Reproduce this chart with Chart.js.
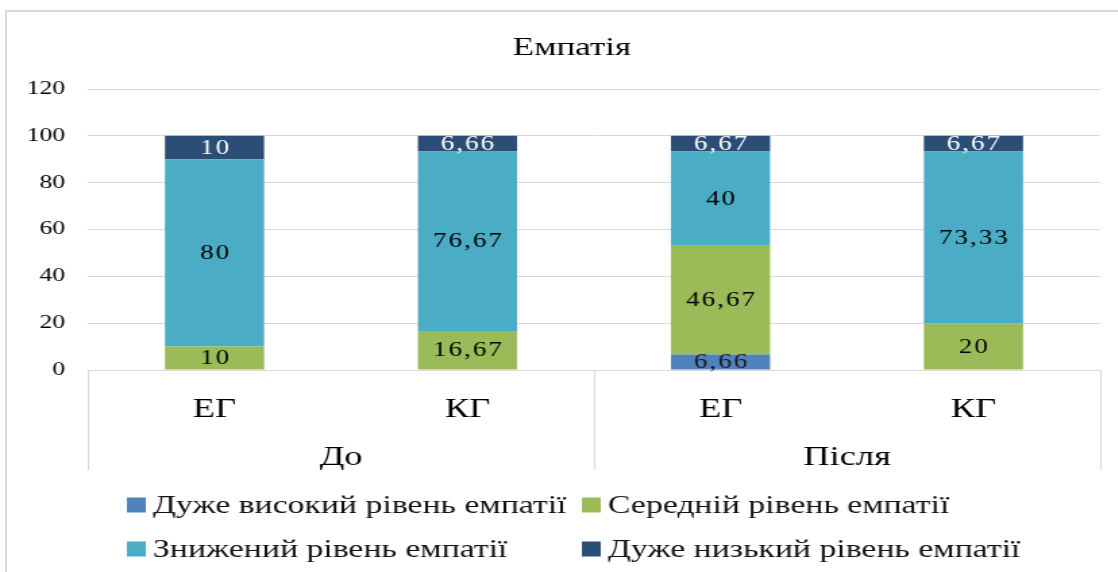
<!DOCTYPE html>
<html>
<head>
<meta charset="utf-8">
<script src="https://cdn.jsdelivr.net/npm/chart.js@4/dist/chart.umd.min.js"></script>
<style>
  html, body { margin: 0; padding: 0; background: #ffffff; overflow: hidden; width: 1118px; height: 572px; }
  #frame { position: absolute; left: 5px; top: 10px; width: 1300px; height: 700px; border: 2px solid #d9d9d9; box-sizing: border-box; }
  #c { position: absolute; left: 0; top: 0; transform: scaleX(1.35); transform-origin: 0 0; }
</style>
</head>
<body>
<div id="frame"></div>
<canvas id="c" width="847" height="572" style="width:847px;height:572px"></canvas>
<script>
// ---- data ----
const categories = ['ЕГ', 'КГ', 'ЕГ', 'КГ'];
const groups = ['До', 'Після'];
const seriesNames = ['Дуже високий рівень емпатії', 'Середній рівень емпатії', 'Знижений рівень емпатії', 'Дуже низький рівень емпатії'];
const veryHigh = [0, 0, 6.66, 0];
const medium = [10, 16.67, 46.67, 20];
const reduced = [80, 76.67, 40, 73.33];
const veryLow = [10, 6.66, 6.67, 6.67];
const yTicks = [0, 20, 40, 60, 80, 100, 120];

const colors = ['#4F81BD', '#9BBB59', '#4BACC6', '#2C4D75'];
const labelColors = ['#1a1a1a', '#000000', '#000000', '#ffffff'];
const FONT = "'Liberation Serif', 'Times New Roman', serif";

const fmt = v => String(v).replace('.', ',');

const extras = {
  id: 'extras',
  afterLayout(chart) {
    // centre the title on the full (wider, cropped) frame
    if (chart.titleBlock) chart.titleBlock.left = 32.6;
  },
  afterDraw(chart) {
    const ctx = chart.ctx;
    const xs = chart.scales.x, x2 = chart.scales.x2, a = chart.chartArea;
    ctx.save();
    // group separators
    ctx.strokeStyle = '#d9d9d9';
    ctx.lineWidth = 1;
    [-0.5, 1.5, 3.5].forEach(v => {
      const px = Math.round(xs.getPixelForValue(v)) + 0.5;
      ctx.beginPath();
      ctx.moveTo(px, a.bottom);
      ctx.lineTo(px, x2.bottom);
      ctx.stroke();
    });
    // bar value labels
    ctx.font = '20px ' + FONT;
    ctx.textAlign = 'center';
    ctx.textBaseline = 'middle';
    try { ctx.letterSpacing = '1.5px'; } catch (e) {}
    chart.data.datasets.forEach((ds, di) => {
      const meta = chart.getDatasetMeta(di);
      meta.data.forEach((el, i) => {
        const v = ds.data[i];
        if (!v) return;
        const p = el.getProps(['x', 'y', 'base'], true);
        ctx.fillStyle = labelColors[di];
        ctx.fillText(fmt(v), p.x + 0.75, (p.y + p.base) / 2 + 1);
      });
    });
    try { ctx.letterSpacing = '0px'; } catch (e) {}
    // legend (2 x 2 grid)
    const rowsY = [505, 549];
    const colX = [94, 431];
    ctx.font = '25px ' + FONT;
    ctx.textAlign = 'left';
    chart.data.datasets.forEach((ds, di) => {
      const r = Math.floor(di / 2), c = di % 2;
      const sx = colX[c], cy = rowsY[r];
      ctx.fillStyle = ds.backgroundColor;
      ctx.fillRect(sx, cy - 7.5, 14, 15);
      ctx.fillStyle = '#111111';
      ctx.fillText(ds.label, sx + 19.3, cy + 1);
    });
    ctx.restore();
  }
};

new Chart(document.getElementById('c'), {
  type: 'bar',
  data: {
    labels: categories,
    datasets: [
      { label: seriesNames[0], data: veryHigh, backgroundColor: colors[0] },
      { label: seriesNames[1], data: medium, backgroundColor: colors[1] },
      { label: seriesNames[2], data: reduced, backgroundColor: colors[2] },
      { label: seriesNames[3], data: veryLow, backgroundColor: colors[3] }
    ]
  },
  options: {
    responsive: false,
    animation: false,
    devicePixelRatio: 1,
    datasets: { bar: { barPercentage: 1, categoryPercentage: 0.392, borderWidth: 0 } },
    layout: { padding: { left: 0, right: 32.2, top: 0, bottom: 102 } },
    plugins: {
      legend: { display: false },
      tooltip: { enabled: false },
      title: {
        display: true,
        text: 'Емпатія',
        color: '#000',
        font: { family: FONT, size: 26, weight: 'normal' },
        padding: { top: 32.6, bottom: 25.2 }
      }
    },
    scales: {
      x: {
        stacked: true,
        weight: 0,
        grid: { display: false },
        border: { display: true, color: '#d9d9d9', width: 1 },
        ticks: { color: '#000', font: { family: FONT, size: 27 }, padding: 15.8, maxRotation: 0 },
        afterFit: s => { s.height = 55; }
      },
      x2: {
        type: 'category',
        labels: groups,
        position: 'bottom',
        offset: true,
        weight: 1,
        grid: { display: false },
        border: { display: false },
        ticks: { color: '#000', font: { family: FONT, size: 27 }, padding: 8.8, maxRotation: 0 },
        afterFit: s => { s.height = 45; }
      },
      y: {
        stacked: true,
        min: 0,
        max: 120,
        afterBuildTicks: s => { s.ticks = yTicks.map(v => ({ value: v })); },
        grid: { color: '#d9d9d9', lineWidth: 1, drawTicks: false },
        border: { display: false },
        ticks: { color: '#000', font: { family: FONT, size: 19 }, padding: 17 },
        afterFit: s => { s.width = 65.2; }
      }
    }
  },
  plugins: [extras]
});
</script>
</body>
</html>
